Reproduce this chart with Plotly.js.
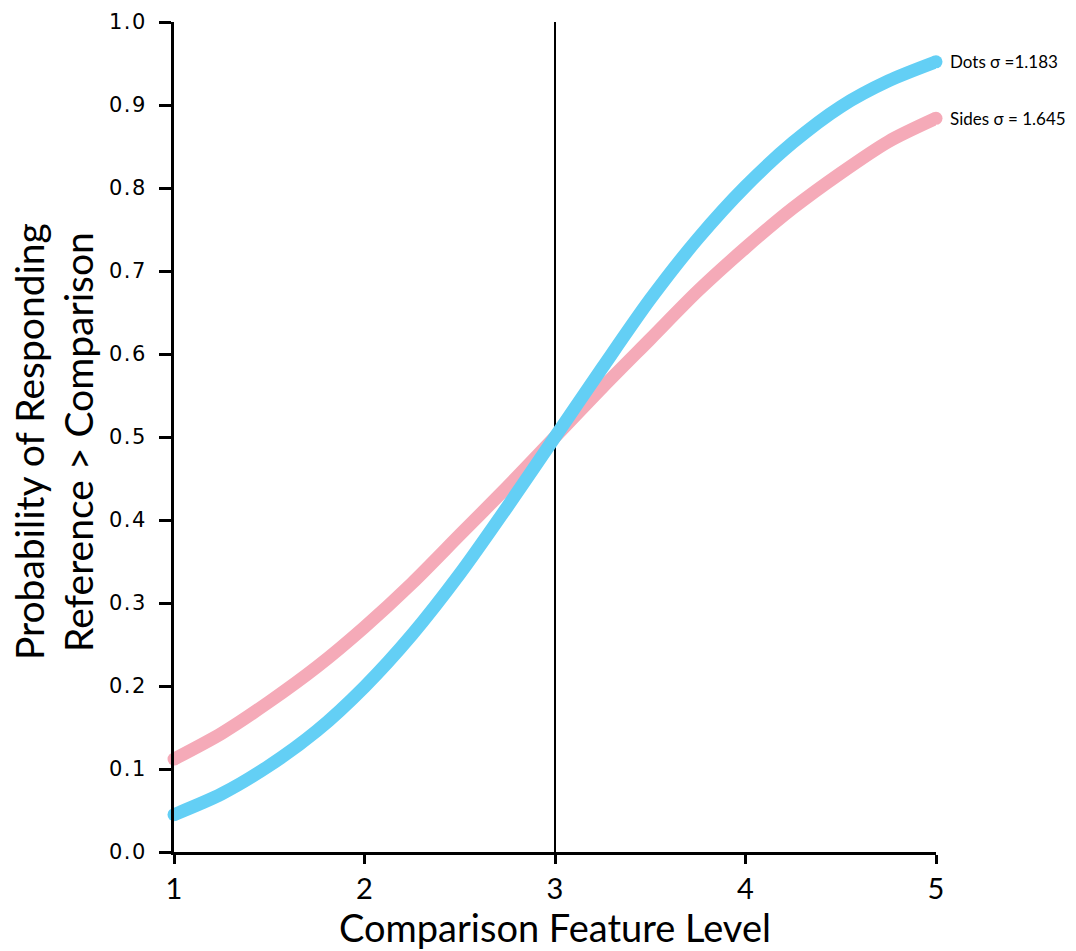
<!DOCTYPE html>
<html>
<head>
<meta charset="utf-8">
<script src="https://cdn.plot.ly/plotly-3.0.1.min.js"></script>
<style>
  html, body { margin: 0; padding: 0; background: #fff; }
  #chart { width: 1076px; height: 951px; }
  /* slightly spread probability tick labels */
  #chart .ytick text { letter-spacing: 1.5px; }
</style>
</head>
<body>
<div id="chart"></div>
<script>
// Comparison feature levels at which the fitted curves are sampled
const featureLevels = [1, 1.25, 1.5, 1.75, 2, 2.25, 2.5, 2.75, 3, 3.25, 3.5, 3.75, 4, 4.25, 4.5, 4.75, 5];

// Probability of responding "reference > comparison"
const dotsProb  = [0.045, 0.070, 0.104, 0.146, 0.199, 0.262, 0.335, 0.416, 0.500, 0.584, 0.666, 0.739, 0.802, 0.855, 0.898, 0.929, 0.952];
const sidesProb = [0.112, 0.143, 0.181, 0.223, 0.271, 0.324, 0.382, 0.440, 0.500, 0.560, 0.618, 0.676, 0.728, 0.776, 0.818, 0.856, 0.884];

const seriesLabels = ['Dots \u03c3 =1.183', 'Sides \u03c3 = 1.645'];
const yTicks = [0, 0.1, 0.2, 0.3, 0.4, 0.5, 0.6, 0.7, 0.8, 0.9, 1.0];
const xTicks = [1, 2, 3, 4, 5];
const pointOfEquality = 3;

const BLUE = '#63cff5';
const PINK = '#f5aab8';
const LINE_W = 13;
const LABEL_FONT = 'Lato, sans-serif';

function curve(y, color) {
  return {
    x: featureLevels, y: y, type: 'scatter', mode: 'lines',
    line: { color: color, width: LINE_W, shape: 'spline', smoothing: 0.8 },
    hoverinfo: 'skip', showlegend: false
  };
}
// Rounded caps at both ends of each curve
function caps(y, color) {
  const n = featureLevels.length - 1;
  return {
    x: [featureLevels[0], featureLevels[n]], y: [y[0], y[n]],
    type: 'scatter', mode: 'markers', cliponaxis: false,
    marker: { color: color, size: LINE_W, line: { width: 0 } },
    hoverinfo: 'skip', showlegend: false
  };
}

const last = featureLevels.length - 1;
const traces = [
  curve(sidesProb, PINK), caps(sidesProb, PINK),
  curve(dotsProb, BLUE), caps(dotsProb, BLUE)
];

const layout = {
  width: 1076, height: 951,
  margin: { l: 174, r: 140, t: 22, b: 99 },
  paper_bgcolor: '#fff', plot_bgcolor: '#fff',
  showlegend: false,
  xaxis: {
    range: [1, 5], tickvals: xTicks, ticktext: xTicks.map(String),
    showgrid: false, zeroline: false,
    showline: true, linecolor: '#000', linewidth: 3,
    ticks: 'outside', ticklen: 9, tickwidth: 3, tickcolor: '#000',
    ticklabelstandoff: 0,
    tickfont: { family: LABEL_FONT, size: 29, color: '#000' }
  },
  yaxis: {
    range: [0, 1], tickvals: yTicks, ticktext: yTicks.map(v => v.toFixed(1)),
    showgrid: false, zeroline: false,
    showline: true, linecolor: '#000', linewidth: 3,
    ticks: 'outside', ticklen: 12, tickwidth: 3, tickcolor: '#000',
    ticklabelstandoff: 8,
    tickfont: { family: '"DejaVu Sans", sans-serif', size: 21, color: '#000' }
  },
  shapes: [{
    type: 'line', xref: 'x', yref: 'y',
    x0: pointOfEquality, x1: pointOfEquality, y0: 0, y1: 1,
    line: { color: '#000', width: 2 }, layer: 'below'
  }],
  annotations: [
    { x: 5, y: dotsProb[last], xref: 'x', yref: 'y', xanchor: 'left', yanchor: 'middle',
      xshift: 12, showarrow: false, text: seriesLabels[0],
      font: { family: LABEL_FONT, size: 17, color: '#000' } },
    { x: 5, y: sidesProb[last], xref: 'x', yref: 'y', xanchor: 'left', yanchor: 'middle',
      xshift: 12, showarrow: false, text: seriesLabels[1],
      font: { family: LABEL_FONT, size: 17, color: '#000' } },
    { x: 0.5, y: 0, xref: 'paper', yref: 'paper', xanchor: 'center', yanchor: 'middle',
      yshift: -75, showarrow: false, text: 'Comparison Feature Level',
      font: { family: LABEL_FONT, size: 38, color: '#000' } },
    { x: 0, y: 0.5, xref: 'paper', yref: 'paper', xanchor: 'center', yanchor: 'middle',
      xshift: -145, yshift: -5, showarrow: false, textangle: -90, text: 'Probability of Responding',
      font: { family: LABEL_FONT, size: 39, color: '#000' } },
    { x: 0, y: 0.5, xref: 'paper', yref: 'paper', xanchor: 'center', yanchor: 'middle',
      xshift: -96, yshift: -5, showarrow: false, textangle: -90, text: 'Reference &gt; Comparison',
      font: { family: LABEL_FONT, size: 39, color: '#000' } }
  ]
};

Plotly.newPlot('chart', traces, layout, { staticPlot: true, displayModeBar: false });
</script>
</body>
</html>
